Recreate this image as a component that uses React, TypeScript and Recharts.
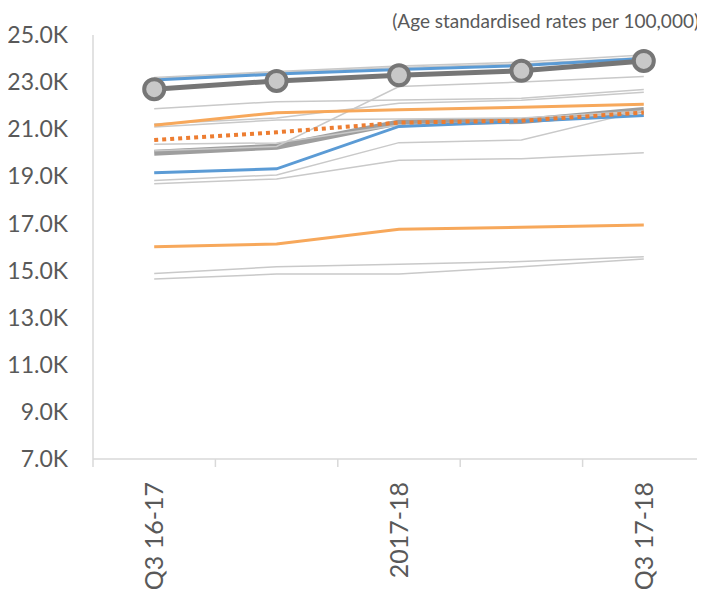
import React from "react";
import { LineChart, Line, XAxis, YAxis } from "recharts";

// periods on the x axis (only every other one is labelled)
const periods = ["Q3 16-17", "Q4 16-17", "2017-18", "Q2 17-18", "Q3 17-18"];
const yTicks = [7000, 9000, 11000, 13000, 15000, 17000, 19000, 21000, 23000, 25000];

// thin grey comparators
const peerA = [23200, 23450, 23680, 23850, 24150];
const peerB = [23150, 23410, 23620, 23770, 24050];
const peerC = [21870, 22170, 22240, 22310, 22690];
const peerD = [21220, 21480, 22100, 22230, 22570];
const peerE = [21090, 21390, 21430, 21480, 21770];
const peerF = [20360, 20420, 21180, 21330, 21750];
const peerG = [20090, 20270, 22810, 23000, 23240];
const peerH = [18820, 19060, 20430, 20540, 21800];
const peerI = [18690, 18890, 19680, 19750, 20000];
const peerJ = [14880, 15160, 15270, 15380, 15590];
const peerK = [14640, 14850, 14850, 15160, 15490];

// coloured comparators
const blueHigh = [23090, 23340, 23540, 23700, 24000];
const blueLow = [19150, 19320, 21120, 21330, 21580];
const orangeHigh = [21170, 21700, 21830, 21930, 22060];
const orangeLow = [16010, 16130, 16750, 16840, 16930];

const average = [20000, 20260, 21290, 21350, 21820]; // thick grey
const national = [20540, 20870, 21280, 21360, 21710]; // dotted orange
const selected = [22700, 23050, 23290, 23480, 23900]; // highlighted area

const CHART_W = 705;
const CHART_H = 610;
const MARGIN = { top: 35, right: 0, bottom: 0, left: 0 };
const Y_AXIS_W = 93;
const X_AXIS_H = 151;
const PLOT_W = CHART_W - Y_AXIS_W - MARGIN.left - MARGIN.right;
const HALF_BAND = PLOT_W / periods.length / 2;

const FONT = "Lato, 'Open Sans', sans-serif";
const TEXT = "#595959";
const AXIS = "#d9d9d9";

const grey = { stroke: "#c9c9c9", width: 1.5 };
const blue = { stroke: "#5b9bd5", width: 3 };
const orange = { stroke: "#f7a85b", width: 3 };

const series = [
  { key: "average", values: average, stroke: "#9e9e9e", width: 6 },
  { key: "peerA", values: peerA, ...grey },
  { key: "peerB", values: peerB, ...grey },
  { key: "peerC", values: peerC, ...grey },
  { key: "peerD", values: peerD, ...grey },
  { key: "peerE", values: peerE, ...grey },
  { key: "peerF", values: peerF, ...grey },
  { key: "peerG", values: peerG, ...grey },
  { key: "peerH", values: peerH, ...grey },
  { key: "peerI", values: peerI, ...grey },
  { key: "peerJ", values: peerJ, ...grey },
  { key: "peerK", values: peerK, ...grey },
  { key: "orangeHigh", values: orangeHigh, ...orange },
  { key: "orangeLow", values: orangeLow, ...orange },
  { key: "blueHigh", values: blueHigh, ...blue },
  { key: "blueLow", values: blueLow, ...blue },
  { key: "national", values: national, stroke: "#ed7d31", width: 4, dash: "4 4" },
];

const data = periods.map((period, i) => {
  const row: Record<string, number | string> = { idx: i, period, selected: selected[i] };
  series.forEach((s) => {
    row[s.key] = s.values[i];
  });
  return row;
});

const PeriodTick = (props: any) => {
  const { x, y, payload, index } = props;
  const labelY = y + 23;
  return (
    <g>
      {/* tick marks sit between categories */}
      <line x1={x - HALF_BAND} x2={x - HALF_BAND} y1={y} y2={y + 8} stroke={AXIS} strokeWidth={1.5} />
      {index === periods.length - 1 && (
        <line x1={x + HALF_BAND} x2={x + HALF_BAND} y1={y} y2={y + 8} stroke={AXIS} strokeWidth={1.5} />
      )}
      {index % 2 === 0 && (
        <text
          x={x}
          y={labelY}
          dy="0.35em"
          transform={`rotate(-90, ${x}, ${labelY})`}
          textAnchor="end"
          fill={TEXT}
          fontSize={25}
          fontFamily={FONT}
        >
          {periods[payload.value]}
        </text>
      )}
    </g>
  );
};

export default function App() {
  return (
    <div style={{ margin: -8, position: "relative", width: CHART_W, height: CHART_H, background: "#fff" }}>
      <div
        style={{
          position: "absolute",
          top: 9,
          right: 6,
          fontFamily: FONT,
          fontSize: 19,
          color: TEXT,
          whiteSpace: "nowrap",
        }}
      >
        (Age standardised rates per 100,000)
      </div>
      <LineChart width={CHART_W} height={CHART_H} data={data} margin={MARGIN}>
        <XAxis
          dataKey="idx"
          type="number"
          domain={[-0.5, periods.length - 0.5]}
          ticks={periods.map((_, i) => i)}
          interval={0}
          height={X_AXIS_H}
          axisLine={{ stroke: AXIS, strokeWidth: 1.5 }}
          tickLine={false}
          tickSize={0}
          tickMargin={0}
          tick={<PeriodTick />}
        />
        <YAxis
          type="number"
          domain={[7000, 25000]}
          ticks={yTicks}
          interval={0}
          width={Y_AXIS_W}
          axisLine={{ stroke: AXIS, strokeWidth: 1.5 }}
          tickLine={false}
          tickSize={0}
          tickMargin={25}
          tickFormatter={(v: number) => (v / 1000).toFixed(1) + "K"}
          tick={{ fill: TEXT, fontSize: 23, fontFamily: FONT }}
        />
        {series.map((s) => (
          <Line
            key={s.key}
            dataKey={s.key}
            type="linear"
            stroke={s.stroke}
            strokeWidth={s.width}
            strokeDasharray={(s as any).dash}
            dot={false}
            activeDot={false}
            isAnimationActive={false}
          />
        ))}
        <Line
          dataKey="selected"
          type="linear"
          stroke="#767676"
          strokeWidth={5}
          dot={{ r: 10, fill: "#c8c8c8", stroke: "#767676", strokeWidth: 4 }}
          activeDot={false}
          isAnimationActive={false}
        />
      </LineChart>
    </div>
  );
}
